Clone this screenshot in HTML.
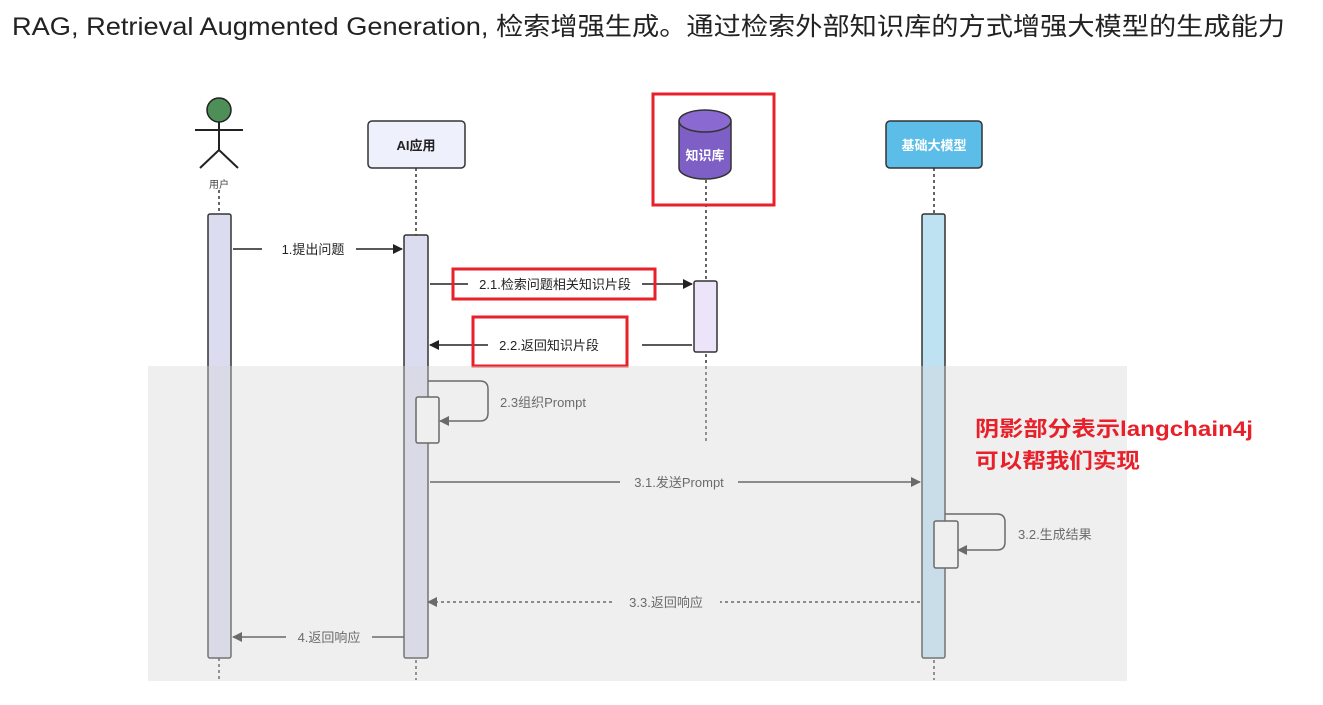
<!DOCTYPE html>
<html><head><meta charset="utf-8"><style>
body{margin:0;background:#fff;width:1323px;height:705px;overflow:hidden}
svg{display:block}
text{font-family:"Liberation Sans","Noto Sans CJK SC",sans-serif}
</style></head><body>
<svg width="1323" height="705" viewBox="0 0 1323 705">
<defs>
<marker id="a" markerWidth="10" markerHeight="10" refX="9" refY="5" orient="auto" markerUnits="userSpaceOnUse"><path d="M0,0 L10,5 L0,10 z" fill="#222"/></marker>
</defs>
<text x="12" y="35" font-size="25" fill="#222" textLength="1273" lengthAdjust="spacingAndGlyphs">RAG, Retrieval Augmented Generation, 检索增强生成。通过检索外部知识库的方式增强大模型的生成能力</text>

<g stroke="#333" stroke-width="1.5" stroke-dasharray="3,3">
<line x1="219" y1="190" x2="219" y2="680"/>
<line x1="416" y1="168" x2="416" y2="680"/>
<line x1="706" y1="180" x2="706" y2="443"/>
<line x1="934" y1="168" x2="934" y2="680"/>
</g>

<circle cx="219" cy="110" r="12" fill="#4e8f58" stroke="#222" stroke-width="1.5"/>
<g stroke="#222" stroke-width="2" fill="none">
<line x1="195" y1="130" x2="243" y2="130"/><line x1="219" y1="122" x2="219" y2="150"/>
<polyline points="200,168 219,150 238,168"/></g>
<text x="219" y="188" font-size="10" text-anchor="middle" fill="#444">用户</text>

<rect x="368" y="121" width="97" height="47" rx="4" fill="#eef0fb" stroke="#333" stroke-width="1.5"/>
<text x="416" y="150" font-size="13" font-weight="bold" text-anchor="middle" fill="#222">AI应用</text>
<rect x="886" y="121" width="96" height="47" rx="4" fill="#5bbde8" stroke="#333" stroke-width="1.5"/>
<text x="934" y="150" font-size="13" font-weight="bold" text-anchor="middle" fill="#fff">基础大模型</text>

<path d="M679,121 L679,168 A26,11 0 0 0 731,168 L731,121" fill="#7e5fc6" stroke="#333" stroke-width="1.5"/>
<ellipse cx="705" cy="121" rx="26" ry="11" fill="#8a6ad0" stroke="#333" stroke-width="1.5"/>
<text x="705" y="160" font-size="13" font-weight="bold" text-anchor="middle" fill="#fff">知识库</text>
<rect x="653" y="94" width="121" height="111" fill="none" stroke="#e8202a" stroke-width="3"/>

<g stroke="#333" stroke-width="1.5">
<rect x="208" y="214" width="23" height="444" rx="2" fill="#dcdcf0"/>
<rect x="404" y="235" width="24" height="423" rx="2" fill="#dcdcf0"/>
<rect x="694" y="281" width="23" height="71" rx="2" fill="#ece4f8"/>
<rect x="922" y="214" width="23" height="444" rx="2" fill="#bfe2f2"/>
</g>

<g stroke="#222" stroke-width="1.5" fill="none">
<line x1="233" y1="249" x2="262" y2="249"/><line x1="356" y1="249" x2="402" y2="249" marker-end="url(#a)"/>
<line x1="430" y1="284" x2="468" y2="284"/><line x1="642" y1="284" x2="692" y2="284" marker-end="url(#a)"/>
<line x1="692" y1="345" x2="642" y2="345"/><line x1="488" y1="345" x2="430" y2="345" marker-end="url(#a)"/>
</g>
<text x="313" y="254" font-size="13" text-anchor="middle" fill="#222">1.提出问题</text>
<text x="555" y="289" font-size="13" text-anchor="middle" fill="#222">2.1.检索问题相关知识片段</text>
<text x="549" y="350" font-size="13" text-anchor="middle" fill="#222">2.2.返回知识片段</text>
<rect x="453" y="269" width="202" height="30" fill="none" stroke="#e8202a" stroke-width="3"/>
<rect x="473" y="317" width="154" height="49" fill="none" stroke="#e8202a" stroke-width="3"/>

<g stroke="#222" stroke-width="1.5" fill="none">
<rect x="416" y="397" width="23" height="46" rx="2" fill="#fff"/>
<path d="M428,381 L480,381 Q488,381 488,389 L488,413 Q488,421 480,421 L440,421" marker-end="url(#a)"/>
<line x1="430" y1="482" x2="620" y2="482"/><line x1="738" y1="482" x2="920" y2="482" marker-end="url(#a)"/>
<rect x="934" y="521" width="24" height="47" rx="2" fill="#fff"/>
<path d="M945,514 L997,514 Q1005,514 1005,522 L1005,542 Q1005,550 997,550 L958,550" marker-end="url(#a)"/>
<line x1="920" y1="602" x2="720" y2="602" stroke-dasharray="3,3"/><line x1="612" y1="602" x2="428" y2="602" stroke-dasharray="3,3" marker-end="url(#a)"/>
<line x1="404" y1="637" x2="372" y2="637"/><line x1="286" y1="637" x2="233" y2="637" marker-end="url(#a)"/>
</g>
<text x="500" y="407" font-size="13" fill="#222">2.3组织Prompt</text>
<text x="679" y="487" font-size="13" text-anchor="middle" fill="#222">3.1.发送Prompt</text>
<text x="1018" y="539" font-size="13" fill="#222">3.2.生成结果</text>
<text x="666" y="607" font-size="13" text-anchor="middle" fill="#222">3.3.返回响应</text>
<text x="329" y="642" font-size="13" text-anchor="middle" fill="#222">4.返回响应</text>

<rect x="148" y="366" width="979" height="315" fill="#d8d8d8" fill-opacity="0.4"/>

<text x="975" y="436" font-size="21" font-weight="bold" fill="#e8202a" textLength="278" lengthAdjust="spacingAndGlyphs">阴影部分表示langchain4j</text>
<text x="975" y="468" font-size="21" font-weight="bold" fill="#e8202a" textLength="165" lengthAdjust="spacingAndGlyphs">可以帮我们实现</text>
</svg>
</body></html>
